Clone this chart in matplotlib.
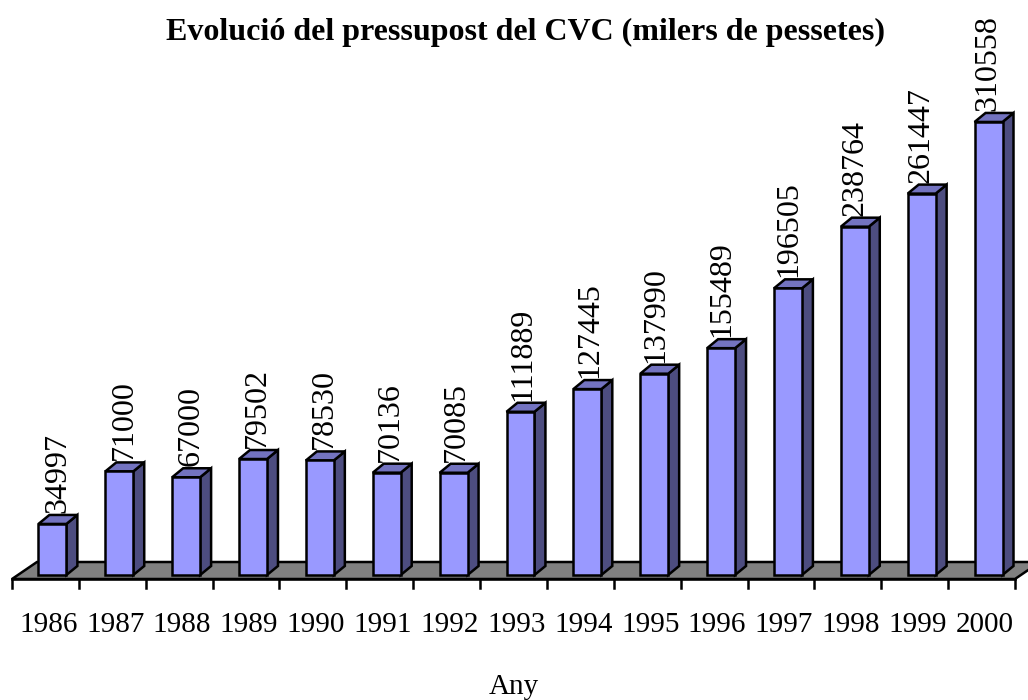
import matplotlib
matplotlib.use('Agg')
import matplotlib.pyplot as plt
from matplotlib.patches import Polygon

years = ['1986', '1987', '1988', '1989', '1990', '1991', '1992', '1993',
         '1994', '1995', '1996', '1997', '1998', '1999', '2000']
budget = [34997, 71000, 67000, 79502, 78530, 70136, 70085, 111889,
          127445, 137990, 155489, 196505, 238764, 261447, 310558]

plt.rcParams['font.family'] = ['Liberation Serif', 'DejaVu Serif']

fig = plt.figure(figsize=(10.28, 7), dpi=100)
ax = fig.add_axes([12 / 1028, 121 / 700, 1003 / 1028, 496 / 700])
ax.set_xlim(-0.5, len(years) - 0.5)
ax.set_ylim(0, 340000)
ax.axis('off')

# conversio pixel -> unitats de dades
px_x = 1 / 67.0
px_y = 685.5

# terra gris
fdx, fdy = 25 * px_x, 17 * px_y
n = len(years)
floor = Polygon([(-0.5, 0), (n - 0.5, 0), (n - 0.5 + fdx, fdy), (-0.5 + fdx, fdy)],
                closed=True, facecolor='#808080', edgecolor='black', lw=1.8,
                clip_on=False, zorder=1)
ax.add_patch(floor)

# marques de l'eix
for i in range(n + 1):
    ax.plot([i - 0.5, i - 0.5], [0, -9 * px_y], color='black', lw=1.8,
            clip_on=False, zorder=1)
ax.plot([-0.5, n - 0.5], [0, 0], color='black', lw=1.8, clip_on=False, zorder=1)

# barres 3D
w = 28 * px_x
ox, oy = 7 * px_x, 4 * px_y
ddx, ddy = 11 * px_x, 9 * px_y
for i, v in enumerate(budget):
    x0 = i + ox - w / 2
    x1 = x0 + w
    y0 = oy
    y1 = oy + v
    front = Polygon([(x0, y0), (x1, y0), (x1, y1), (x0, y1)], closed=True,
                    facecolor='#9999FF', edgecolor='black', lw=1.8,
                    clip_on=False, zorder=3)
    side = Polygon([(x1, y0), (x1 + ddx, y0 + ddy), (x1 + ddx, y1 + ddy), (x1, y1)],
                   closed=True, facecolor='#4D4D80', edgecolor='black', lw=1.8,
                   clip_on=False, zorder=3)
    top = Polygon([(x0, y1), (x1, y1), (x1 + ddx, y1 + ddy), (x0 + ddx, y1 + ddy)],
                  closed=True, facecolor='#7373C0', edgecolor='black', lw=1.8,
                  clip_on=False, zorder=3)
    ax.add_patch(side)
    ax.add_patch(top)
    ax.add_patch(front)
    shift = (6 - 0.5 * i) * px_x
    ax.text(i + ox + shift, y1 + ddy + 2 * px_y, str(v), rotation=90,
            ha='center', va='bottom', fontsize=23, clip_on=False, zorder=4)

# etiquetes dels anys
for i, y in enumerate(years):
    ax.text(i + 3 * px_x, -46 * px_y, y, ha='center', va='center', fontsize=21)

fig.text(514 / 1028, 1 - 687 / 700, 'Any', ha='center', va='center', fontsize=21)
fig.text(525 / 1028, 1 - 32 / 700, 'Evolució del pressupost del CVC (milers de pessetes)',
         ha='center', va='center', fontsize=23, fontweight='bold')

fig.savefig('out.png', dpi=100)
